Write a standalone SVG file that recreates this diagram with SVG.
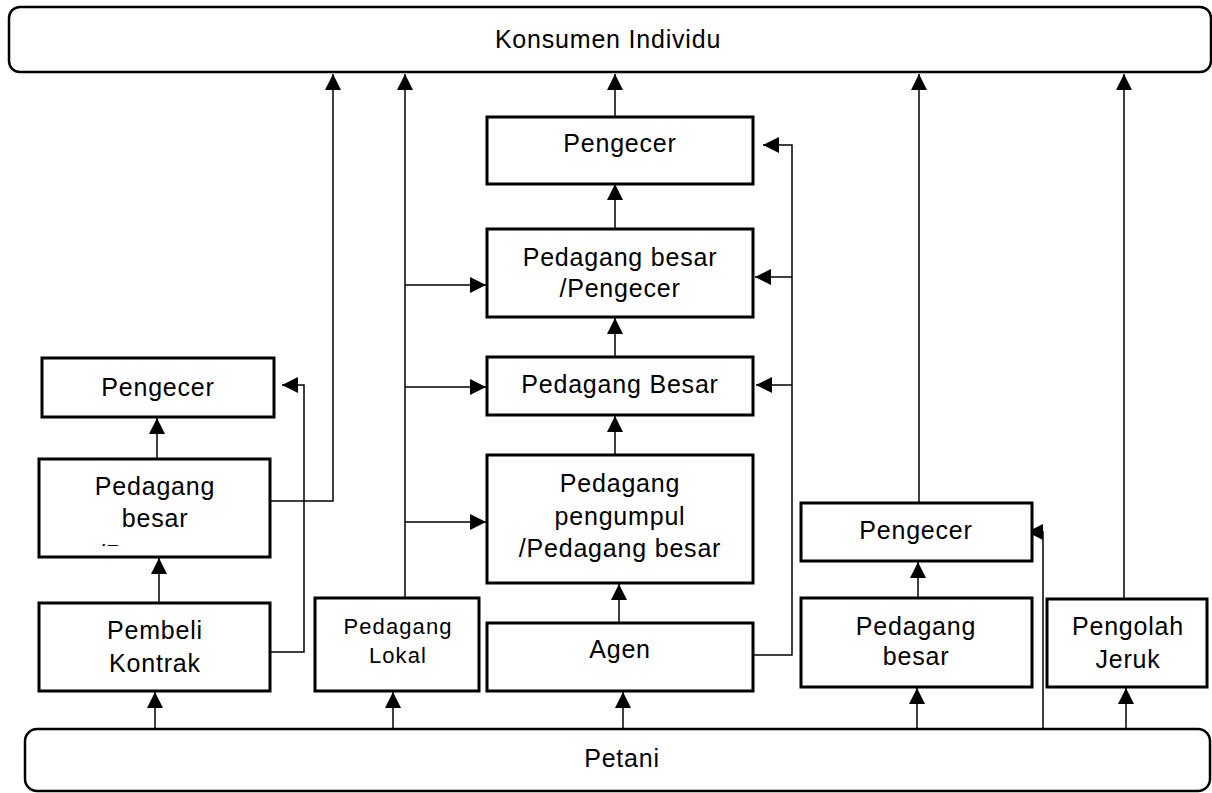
<svg xmlns="http://www.w3.org/2000/svg" width="1212" height="793" viewBox="0 0 1212 793">
<style>
.box{fill:#fff;stroke:#000;stroke-width:3}
.rbox{fill:#fff;stroke:#000;stroke-width:2.5}
.t{font-family:"Liberation Sans",Arial,sans-serif;font-size:25px;letter-spacing:0.8px;fill:#000;text-anchor:middle}
.ts{font-family:"Liberation Sans",Arial,sans-serif;font-size:22px;letter-spacing:1.1px;fill:#000;text-anchor:middle}
.a{fill:none;stroke:#000;stroke-width:1.5;marker-end:url(#ah)}
</style>
<defs>
<marker id="ah" markerUnits="userSpaceOnUse" markerWidth="16" markerHeight="16" viewBox="0 0 16 16" refX="16" refY="8" orient="auto">
<path d="M0,0 L16,8 L0,16 z" fill="#000"/>
</marker>
<clipPath id="clipPB"><rect x="41" y="461" width="227" height="85"/></clipPath>
</defs>
<rect width="1212" height="793" fill="#fff"/>

<g id="connectors">
<line class="a" x1="155" y1="730" x2="155" y2="692"/>
<line class="a" x1="159" y1="603" x2="159" y2="558"/>
<line class="a" x1="157" y1="459" x2="157" y2="418"/>
<polyline class="a" points="270,501 333,501 333,74"/>
<polyline class="a" points="270,652 304,652 304,385 282,385"/>
<line class="a" x1="393" y1="733" x2="393" y2="692"/>
<line class="a" x1="405" y1="598" x2="405" y2="74"/>
<line class="a" x1="405" y1="285" x2="486" y2="285"/>
<line class="a" x1="405" y1="387" x2="486" y2="387"/>
<line class="a" x1="405" y1="522" x2="486" y2="522"/>
<line class="a" x1="623" y1="731" x2="623" y2="692"/>
<line class="a" x1="619" y1="623" x2="619" y2="584"/>
<line class="a" x1="615" y1="455" x2="615" y2="416"/>
<line class="a" x1="615" y1="357" x2="615" y2="318"/>
<line class="a" x1="615" y1="229" x2="615" y2="184"/>
<line class="a" x1="615" y1="116" x2="615" y2="74"/>
<polyline class="a" points="753,655 792,655 792,145 763,145"/>
<line class="a" x1="792" y1="277" x2="755" y2="277"/>
<line class="a" x1="792" y1="385" x2="756" y2="385"/>
<line class="a" x1="917" y1="731" x2="917" y2="688"/>
<line class="a" x1="918" y1="598" x2="918" y2="562"/>
<line class="a" x1="919" y1="503" x2="919" y2="74"/>
<polyline class="a" points="1043,731 1043,532 1027,532"/>
<line class="a" x1="1126" y1="731" x2="1126" y2="688"/>
<line class="a" x1="1124" y1="599" x2="1124" y2="74"/>
</g>

<g id="konsumen">
<rect class="rbox" x="9" y="7" width="1202" height="65" rx="11"/>
<text class="t" x="608" y="48">Konsumen Individu</text>
</g>

<g id="petani">
<rect class="rbox" x="25" y="729" width="1185" height="62" rx="12"/>
<text class="t" x="622" y="767">Petani</text>
</g>

<g id="pengecer-left">
<rect class="box" x="42" y="358" width="232" height="59"/>
<text class="t" x="158" y="396">Pengecer</text>
</g>

<g id="pedagang-besar-left">
<rect class="box" x="39" y="459" width="231" height="98"/>
<g clip-path="url(#clipPB)">
<text class="t" x="155" y="495">Pedagang</text>
<text class="t" x="155" y="527">besar</text>
<text class="t" x="98" y="563" style="text-anchor:start">/Pengecer</text>
</g>
</g>

<g id="pembeli-kontrak">
<rect class="box" x="39" y="603" width="231" height="88"/>
<text class="t" x="155" y="639">Pembeli</text>
<text class="t" x="155" y="672">Kontrak</text>
</g>

<g id="pedagang-lokal">
<rect class="box" x="315" y="598" width="164" height="93"/>
<text class="ts" x="398" y="634">Pedagang</text>
<text class="ts" x="398" y="663">Lokal</text>
</g>

<g id="pengecer-center">
<rect class="box" x="487" y="117" width="266" height="67"/>
<text class="t" x="620" y="152">Pengecer</text>
</g>

<g id="pedagang-besar-pengecer">
<rect class="box" x="487" y="229" width="266" height="88"/>
<text class="t" x="620" y="266">Pedagang besar</text>
<text class="t" x="620" y="297">/Pengecer</text>
</g>

<g id="pedagang-besar-center">
<rect class="box" x="487" y="357" width="266" height="58"/>
<text class="t" x="620" y="393">Pedagang Besar</text>
</g>

<g id="pedagang-pengumpul">
<rect class="box" x="487" y="455" width="266" height="128"/>
<text class="t" x="620" y="492">Pedagang</text>
<text class="t" x="620" y="525">pengumpul</text>
<text class="t" x="620" y="557">/Pedagang besar</text>
</g>

<g id="agen">
<rect class="box" x="487" y="623" width="266" height="68"/>
<text class="t" x="620" y="658">Agen</text>
</g>

<g id="pengecer-right">
<rect class="box" x="801" y="503" width="231" height="58"/>
<text class="t" x="916" y="539">Pengecer</text>
</g>

<g id="pedagang-besar-right">
<rect class="box" x="801" y="598" width="231" height="89"/>
<text class="t" x="916" y="635">Pedagang</text>
<text class="t" x="916" y="665">besar</text>
</g>

<g id="pengolah-jeruk">
<rect class="box" x="1047" y="599" width="160" height="88"/>
<text class="t" x="1128" y="635">Pengolah</text>
<text class="t" x="1128" y="668">Jeruk</text>
</g>
</svg>
